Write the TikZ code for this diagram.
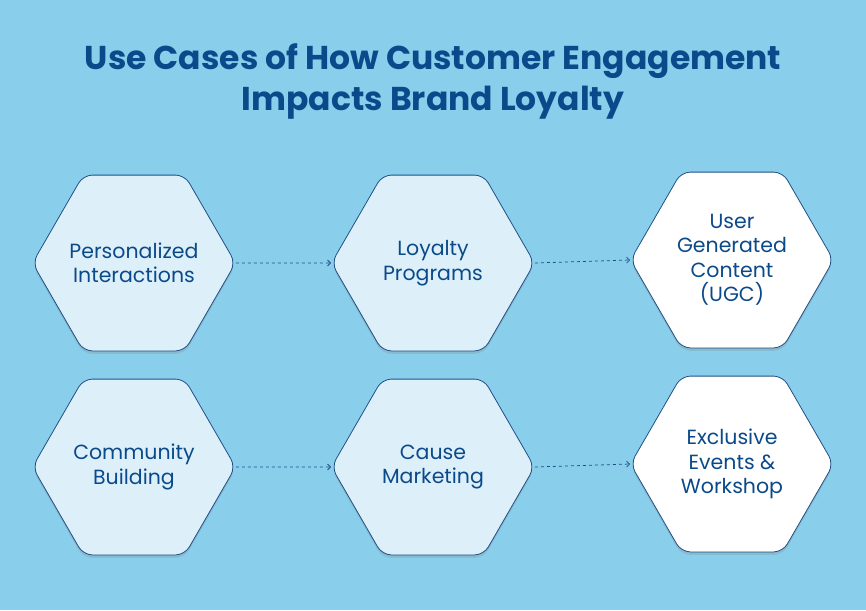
\documentclass[tikz,border=0pt]{standalone}
\usepackage{fontspec}
\setmainfont{Poppins}
\usetikzlibrary{shapes.geometric,shadows,arrows.meta}

\definecolor{bgblue}{HTML}{89CFEC}
\definecolor{hexfill}{HTML}{DDF0FA}
\definecolor{inkblue}{HTML}{0B4A8A}
\definecolor{edgeblue}{HTML}{1F4E86}

\tikzset{
  hexnode/.style={regular polygon, regular polygon sides=6, minimum size=203pt,
    inner sep=-20pt, draw=edgeblue, line width=0.8pt, fill=hexfill, rounded corners=9pt,
    text=inkblue, align=center, font=\fontsize{20.5}{24.5}\selectfont,
    drop shadow={opacity=0.25, shadow xshift=0pt, shadow yshift=-3pt}},
  hexwhite/.style={hexnode, fill=white},
  linkarrow/.style={draw=edgeblue, dashed, dash pattern=on 3pt off 3pt, line width=0.75pt,
    -{Straight Barb[length=3pt,width=6pt]}}
}

\begin{document}
\begin{tikzpicture}[x=1pt,y=-1pt]
  \fill[bgblue] (0,0) rectangle (866,610);
  \useasboundingbox (0,0) rectangle (866,610);
  \node[text=inkblue, align=center, font=\bfseries\fontsize{33}{41}\selectfont] (title) at (433,81)
    {Use Cases of How Customer Engagement\\Impacts Brand Loyalty};

  \node[hexnode] (PI) at (134,263) {Personalized\\Interactions};
  \node[hexnode] (LP) at (433,263) {Loyalty\\Programs};
  \node[hexwhite] (UGC) at (732,260) {User\\Generated\\Content\\(UGC)};
  \node[hexnode] (CB) at (134,467) {Community\\Building};
  \node[hexnode] (CM) at (433,467) {Cause\\Marketing};
  \node[hexwhite] (EEW) at (732,464) {Exclusive\\Events \&\\Workshop};

  \draw[linkarrow] (PI.east) to (LP.west);
  \draw[linkarrow] (LP.east) to (UGC.west);
  \draw[linkarrow] (CB.east) to (CM.west);
  \draw[linkarrow] (CM.east) to (EEW.west);
\end{tikzpicture}
\end{document}
